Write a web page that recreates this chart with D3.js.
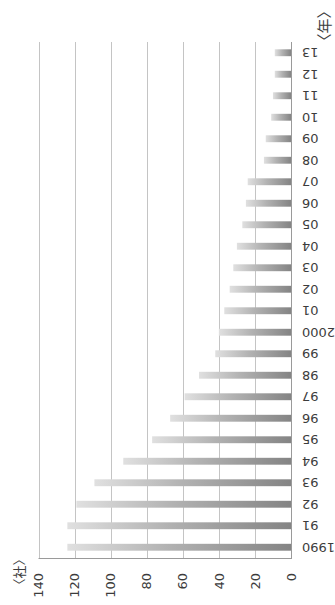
<!DOCTYPE html>
<html>
<head>
<meta charset="utf-8">
<script src="https://cdn.jsdelivr.net/npm/d3@7"></script>
<style>
  body { margin: 0; background: #fff; }
  svg { display: block; }
  .grid line { stroke: #c4c4c4; stroke-width: 1; }
  .val text { font-family: "DejaVu Sans", sans-serif; font-size: 13px; fill: #3c3c3c; }
  .yr text { font-family: "DejaVu Sans", sans-serif; font-size: 13px; fill: #3c3c3c; }
  .unit { font-family: "Noto Sans CJK JP", sans-serif; fill: #3c3c3c; }
</style>
</head>
<body>
<div id="chart"></div>
<script>
// data: number of companies per year
var years = ["1990","91","92","93","94","95","96","97","98","99","2000",
             "01","02","03","04","05","06","07","08","09","10","11","12","13"];
var counts = [124, 124, 119, 109, 93, 77, 67, 59, 51, 42, 40,
              37, 34, 32, 30, 27, 25, 24, 15, 14, 11, 10, 9, 9];
var ticks = [0, 20, 40, 60, 80, 100, 120, 140];

var width = 335, height = 605;
// plot box ("top" is taken by window.top, so use other names)
var plotLeft = 38.5, plotRight = 291, plotTop = 42, plotBottom = 558;

var svg = d3.select("#chart").append("svg")
  .attr("width", width)
  .attr("height", height);

// gradient per bar: dark at the base, pale at the tip
var grad = svg.append("defs").append("linearGradient")
  .attr("id", "barGrad")
  .attr("x1", "100%").attr("x2", "0%")
  .attr("y1", "0%").attr("y2", "0%");
grad.append("stop").attr("offset", "0%").attr("stop-color", "#848484");
grad.append("stop").attr("offset", "55%").attr("stop-color", "#b2b2b2");
grad.append("stop").attr("offset", "100%").attr("stop-color", "#e0e0e0");

var x = d3.scaleLinear().domain([0, 140]).range([plotRight, plotLeft]);
var y = d3.scaleBand().domain(years).range([plotBottom, plotTop])
  .paddingInner(0.68).paddingOuter(0.34);

// grid lines
svg.append("g").attr("class", "grid")
  .selectAll("line")
  .data(ticks)
  .enter().append("line")
  .attr("x1", d => Math.round(x(d)) + 0.5)
  .attr("x2", d => Math.round(x(d)) + 0.5)
  .attr("y1", plotTop)
  .attr("y2", plotBottom)
  .style("stroke", d => d === 0 ? "#9a9a9a" : null);

// bottom frame line
svg.append("line")
  .attr("x1", x(140)).attr("x2", x(0) + 1)
  .attr("y1", plotBottom + 0.5).attr("y2", plotBottom + 0.5)
  .attr("stroke", "#9a9a9a");

// bars
var data = years.map((d, i) => ({year: d, value: counts[i]}));
svg.append("g")
  .selectAll("rect")
  .data(data)
  .enter().append("rect")
  .attr("x", d => x(d.value))
  .attr("width", d => x(0) - x(d.value))
  .attr("y", d => y(d.year))
  .attr("height", y.bandwidth())
  .attr("fill", "url(#barGrad)");

// value labels (read bottom to top)
svg.append("g").attr("class", "val")
  .selectAll("text")
  .data(ticks)
  .enter().append("text")
  .attr("transform", d => "translate(" + x(d) + ",573) rotate(-90)")
  .attr("dy", "0.36em")
  .style("text-anchor", "end")
  .text(d => d);

// year labels (upside down)
svg.append("g").attr("class", "yr")
  .selectAll("text")
  .data(years)
  .enter().append("text")
  .attr("transform", d => "translate(302," + (y(d) + y.bandwidth() / 2) + ") rotate(180)")
  .attr("dy", "0.36em")
  .style("text-anchor", "end")
  .text(d => d);

// unit labels
svg.append("text").attr("class", "unit")
  .attr("transform", "translate(19,572) rotate(-90)")
  .attr("dy", "0.36em")
  .style("font-size", "13px")
  .style("text-anchor", "middle")
  .text("〈社〉");

svg.append("text").attr("class", "unit")
  .attr("transform", "translate(325,26) rotate(-90)")
  .attr("dy", "0.36em")
  .style("font-size", "15px")
  .style("text-anchor", "middle")
  .text("〈年〉");
</script>
</body>
</html>
